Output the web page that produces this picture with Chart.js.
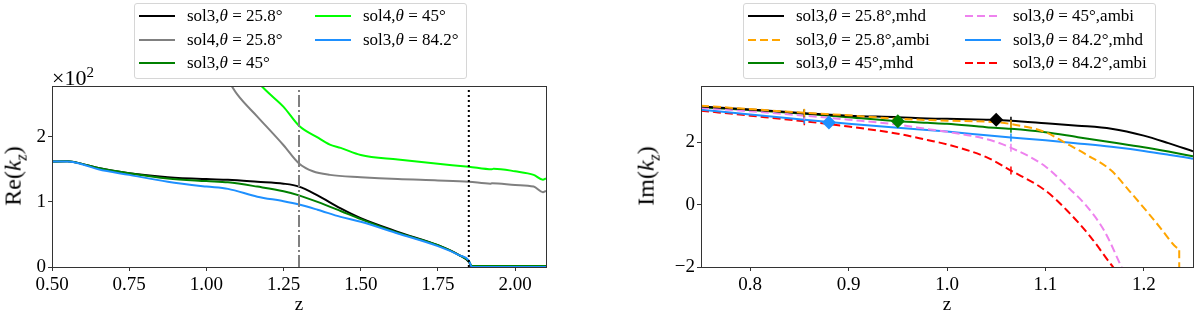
<!DOCTYPE html>
<html>
<head>
<meta charset="utf-8">
<script src="https://cdn.jsdelivr.net/npm/chart.js@4"></script>
<style>
  html, body { margin: 0; padding: 0; background: #fff; }
  body { width: 1200px; height: 316px; position: relative; overflow: hidden; font-family: "Liberation Serif", serif; }
  .panel { position: absolute; top: 0; width: 600px; height: 316px; }
  .legend-box { position: absolute; border: 1px solid #d6d6d6; border-radius: 3px; background: rgba(255,255,255,0.8); }
  .leg-item { position: absolute; font-size: 17px; line-height: 20px; white-space: nowrap; color: #000; }
  .leg-item svg { position: absolute; top: 0; }
  .ytitle { position: absolute; font-size: 24px; transform: translate(-50%, -50%) rotate(-90deg); white-space: nowrap; }
  .ytitle sub { font-size: 16px; }
  .mult { position: absolute; font-size: 22px; line-height: 24px; }
  .mult sup { font-size: 15px; }
</style>
</head>
<body>
<div class="panel" style="left:0"><canvas id="reChart"></canvas></div>
<div class="panel" style="left:600px"><canvas id="imChart"></canvas></div>
<div class="legend-box" style="left:134px; top:3px; width:331px; height:74px"></div>
<div class="legend-box" style="left:743px; top:3px; width:411px; height:74px"></div>
<div class="mult" style="left:52px; top:60px">×10<sup>2</sup></div>
<div class="ytitle" style="left:15px; top:176px">Re(<i>k<sub>z</sub></i>)</div>
<div class="ytitle" style="left:648px; top:176px">Im(<i>k<sub>z</sub></i>)</div>
<div id="legends"></div>
<script>
// ---------- left panel: Re(kz) (in units of 10^2) ----------
const reZ = [0.50, 0.55, 0.60, 0.65, 0.75, 0.875, 1.00, 1.07, 1.165, 1.25, 1.30, 1.36, 1.435, 1.50, 1.62, 1.75, 1.82, 1.85, 1.86, 1.90, 2.00, 2.10];
const reSol3_258 = [1.62, 1.625, 1.58, 1.52, 1.44, 1.38, 1.35, 1.34, 1.31, 1.28, 1.235, 1.10, 0.90, 0.75, 0.54, 0.335, 0.18, 0.08, 0.0, 0.0, 0.0, 0.0];
const reSol3_45 = [1.62, 1.625, 1.58, 1.52, 1.44, 1.36, 1.32, 1.30, 1.235, 1.165, 1.10, 1.00, 0.86, 0.735, 0.525, 0.335, 0.18, 0.09, 0.015, 0.015, 0.015, 0.015];
const reSol3_842 = [1.62, 1.62, 1.575, 1.50, 1.415, 1.31, 1.235, 1.20, 1.08, 1.01, 0.96, 0.88, 0.77, 0.695, 0.515, 0.32, 0.18, 0.10, 0.0, 0.0, 0.0, 0.0];

const reZ4_258 = [1.06, 1.10, 1.165, 1.25, 1.30, 1.345, 1.40, 1.50, 1.62, 1.75, 1.85, 1.92, 1.925, 2.00, 2.06, 2.09, 2.10];
const reSol4_258 = [2.95, 2.65, 2.31, 1.87, 1.59, 1.47, 1.415, 1.38, 1.35, 1.33, 1.31, 1.28, 1.285, 1.26, 1.235, 1.15, 1.17];
const reZ4_45 = [1.17, 1.20, 1.25, 1.30, 1.36, 1.40, 1.435, 1.50, 1.62, 1.75, 1.85, 1.925, 1.93, 2.00, 2.06, 2.09, 2.10];
const reSol4_45 = [2.82, 2.68, 2.46, 2.17, 1.99, 1.88, 1.83, 1.72, 1.65, 1.585, 1.54, 1.50, 1.51, 1.47, 1.415, 1.34, 1.36];

const reVlineDashDot = 1.30;
const reVlineDotted = 1.85;
const reXTicks = [0.50, 0.75, 1.00, 1.25, 1.50, 1.75, 2.00];
const reYTicks = [0, 1, 2];

// ---------- right panel: Im(kz) ----------
const imZ = [0.75, 0.80, 0.855, 0.90, 0.95, 0.98, 1.00, 1.04, 1.065, 1.10, 1.133, 1.167, 1.20, 1.225, 1.25];
const imMhd258 = [3.14, 3.05, 2.93, 2.85, 2.80, 2.76, 2.75, 2.72, 2.69, 2.61, 2.53, 2.43, 2.21, 1.97, 1.71];
const imMhd45 = [3.12, 3.03, 2.91, 2.80, 2.67, 2.62, 2.59, 2.48, 2.43, 2.32, 2.16, 2.00, 1.84, 1.70, 1.55];
const imMhd842 = [3.04, 2.89, 2.72, 2.59, 2.46, 2.39, 2.34, 2.22, 2.15, 2.06, 1.96, 1.85, 1.72, 1.60, 1.47];

const imZAmbi258 = [0.75, 0.80, 0.855, 0.90, 0.95, 1.00, 1.05, 1.065, 1.10, 1.12, 1.14, 1.167, 1.185, 1.205, 1.219, 1.231, 1.236, 1.236];
const imAmbi258 = [3.17, 3.06, 2.94, 2.86, 2.75, 2.69, 2.64, 2.58, 2.32, 1.98, 1.63, 1.09, 0.45, -0.29, -0.83, -1.31, -1.41, -2.5];
const imZAmbi45 = [0.75, 0.80, 0.855, 0.90, 0.95, 0.98, 1.00, 1.04, 1.065, 1.10, 1.122, 1.14, 1.16, 1.178];
const imAmbi45 = [3.10, 2.99, 2.85, 2.72, 2.56, 2.42, 2.33, 2.10, 1.82, 1.22, 0.58, 0.02, -0.85, -2.05];
const imZAmbi842 = [0.75, 0.80, 0.855, 0.90, 0.95, 0.98, 1.00, 1.04, 1.065, 1.10, 1.122, 1.146, 1.166, 1.17];
const imAmbi842 = [3.01, 2.85, 2.67, 2.50, 2.27, 2.07, 1.93, 1.52, 1.09, 0.45, -0.19, -1.04, -1.89, -2.05];

const diamondZ = [1.05, 0.95, 0.88];
const diamondY = [2.72, 2.67, 2.63];
const markZ = [0.855, 1.065];
const imXTicks = [0.8, 0.9, 1.0, 1.1, 1.2];
const imYTicks = [-2, 0, 2];

// colours
const C_BLACK = '#000000', C_GREY = '#808080', C_GREEN = '#008000', C_LIME = '#00ff00';
const C_BLUE = '#1e90ff', C_ORANGE = '#ffa500', C_VIOLET = '#ee82ee', C_RED = '#ff0000';

const FONT = "'Liberation Serif', serif";

function pts(xs, ys) {
    return xs.map((x, i) => ({ x: x, y: ys[i] }));
}

function lineSet(xs, ys, color, extra) {
    return Object.assign({
        type: 'line',
        data: pts(xs, ys),
        borderColor: color,
        backgroundColor: color,
        borderWidth: 2,
        pointRadius: 0,
        cubicInterpolationMode: 'monotone',
        fill: false,
        clip: 0
    }, extra || {});
}

// small vertical tick markers on the Im curves
function withMarks(color) {
    return {
        pointStyle: 'line',
        rotation: 90,
        pointBorderColor: color,
        pointBorderWidth: 1.5,
        pointRadius: c => (c.raw && markZ.includes(c.raw.x)) ? 4 : 0
    };
}

const framePlugin = {
    id: 'frame',
    afterDatasetsDraw(chart) {
        const { ctx, chartArea: a } = chart;
        ctx.save();
        ctx.strokeStyle = '#333';
        ctx.lineWidth = 1;
        ctx.strokeRect(Math.round(a.left) + 0.5, Math.round(a.top) + 0.5,
            Math.round(a.right - a.left), Math.round(a.bottom - a.top));
        ctx.restore();
    }
};

function axes(xmin, xmax, ymin, ymax, xTicks, yTicks, xFmt, yWidth) {
    const tickFont = { family: FONT, size: 19 };
    return {
        x: {
            type: 'linear', min: xmin, max: xmax,
            afterBuildTicks: s => { s.ticks = xTicks.map(v => ({ value: v })); },
            afterFit: s => { s.height = 49; },
            grid: { drawOnChartArea: false, drawTicks: true, tickLength: 4, color: '#333' },
            border: { display: false },
            ticks: { font: tickFont, color: '#000', padding: 3, maxRotation: 0, callback: xFmt },
            title: { display: true, text: 'z', font: { family: FONT, size: 19 }, color: '#000', padding: { top: 0, bottom: 0 } }
        },
        y: {
            type: 'linear', min: ymin, max: ymax,
            afterBuildTicks: s => { s.ticks = yTicks.map(v => ({ value: v })); },
            afterFit: s => { s.width = yWidth; },
            grid: { drawOnChartArea: false, drawTicks: true, tickLength: 4, color: '#333' },
            border: { display: false },
            ticks: { font: tickFont, color: '#000', padding: 2, callback: v => String(v).replace('-', '\u2212') }
        }
    };
}

const common = {
    responsive: true,
    maintainAspectRatio: false,
    animation: false,
    devicePixelRatio: 1,
    plugins: { legend: { display: false }, tooltip: { enabled: false } }
};

// ---------- left chart ----------
new Chart(document.getElementById('reChart'), {
    type: 'line',
    data: {
        datasets: [
            lineSet(reZ, reSol3_842, C_BLUE, { order: 3 }),
            lineSet(reZ, reSol3_45, C_GREEN, { order: 4 }),
            lineSet(reZ, reSol3_258, C_BLACK, { order: 5 }),
            lineSet(reZ4_45, reSol4_45, C_LIME, { order: 6 }),
            lineSet(reZ4_258, reSol4_258, C_GREY, { order: 7 }),
            lineSet([reVlineDashDot, reVlineDashDot], [0, 2.78], C_GREY, { borderDash: [12, 3, 2, 3], order: 1, cubicInterpolationMode: 'default' }),
            lineSet([reVlineDotted, reVlineDotted], [0, 2.78], C_BLACK, { borderDash: [2, 3], order: 2, cubicInterpolationMode: 'default' })
        ]
    },
    options: Object.assign({}, common, {
        layout: { padding: { top: 86, right: 54, left: 0, bottom: 0 } },
        scales: axes(0.5, 2.1, 0, 2.78, reXTicks, reYTicks, v => Number(v).toFixed(2), 52)
    }),
    plugins: [framePlugin]
});

// ---------- right chart ----------
new Chart(document.getElementById('imChart'), {
    type: 'line',
    data: {
        datasets: [
            {
                type: 'scatter',
                data: pts(diamondZ, diamondY),
                pointStyle: 'rectRot',
                pointRadius: 7,
                pointBackgroundColor: [C_BLACK, C_GREEN, C_BLUE],
                pointBorderColor: [C_BLACK, C_GREEN, C_BLUE],
                borderWidth: 0,
                clip: 0,
                order: 0
            },
            lineSet(imZAmbi258, imAmbi258, C_ORANGE, Object.assign({ borderDash: [8, 4], order: 1 }, withMarks(C_ORANGE))),
            lineSet(imZ, imMhd258, C_BLACK, Object.assign({ order: 2 }, withMarks(C_BLACK))),
            lineSet(imZAmbi45, imAmbi45, C_VIOLET, Object.assign({ borderDash: [8, 4], order: 3 }, withMarks(C_VIOLET))),
            lineSet(imZ, imMhd45, C_GREEN, Object.assign({ order: 4 }, withMarks(C_GREEN))),
            lineSet(imZ, imMhd842, C_BLUE, Object.assign({ order: 5 }, withMarks(C_BLUE))),
            lineSet(imZAmbi842, imAmbi842, C_RED, Object.assign({ borderDash: [8, 4], order: 6 }, withMarks(C_RED)))
        ]
    },
    options: Object.assign({}, common, {
        layout: { padding: { top: 86, right: 3, left: 0, bottom: 0 } },
        scales: axes(0.75, 1.25, -2, 3.8, imXTicks, imYTicks, v => Number(v).toFixed(1), 101)
    }),
    plugins: [framePlugin]
});

// ---------- legends (two columns, filled column by column) ----------
const reLegend = [
    ['sol3', '25.8', '', C_BLACK, false],
    ['sol4', '25.8', '', C_GREY, false],
    ['sol3', '45', '', C_GREEN, false],
    ['sol4', '45', '', C_LIME, false],
    ['sol3', '84.2', '', C_BLUE, false]
];
const imLegend = [
    ['sol3', '25.8', ',mhd', C_BLACK, false],
    ['sol3', '25.8', ',ambi', C_ORANGE, true],
    ['sol3', '45', ',mhd', C_GREEN, false],
    ['sol3', '45', ',ambi', C_VIOLET, true],
    ['sol3', '84.2', ',mhd', C_BLUE, false],
    ['sol3', '84.2', ',ambi', C_RED, true]
];

function buildLegend(items, colX, rowY) {
    const host = document.getElementById('legends');
    items.forEach((it, i) => {
        const col = Math.floor(i / 3), row = i % 3;
        const el = document.createElement('div');
        el.className = 'leg-item';
        el.style.left = colX[col] + 'px';
        el.style.top = (rowY[row] - 10) + 'px';
        const dash = it[4] ? 'stroke-dasharray="8 4"' : '';
        el.innerHTML =
            `<svg width="36" height="20"><line x1="0" y1="10" x2="36" y2="10" stroke="${it[3]}" stroke-width="2" ${dash}/></svg>` +
            `<span style="position:absolute; left:48px; top:0">${it[0]},<i>θ</i> = ${it[1]}°${it[2]}</span>`;
        host.appendChild(el);
    });
}

buildLegend(reLegend, [139, 315], [16, 39.5, 63]);
buildLegend(imLegend, [748, 965], [16, 39.5, 63]);
</script>
</body>
</html>
